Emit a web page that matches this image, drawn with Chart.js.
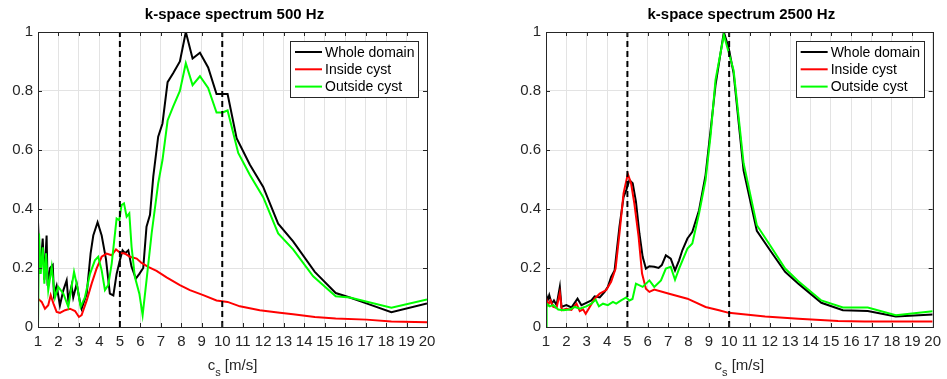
<!DOCTYPE html>
<html>
<head>
<meta charset="utf-8">
<script src="https://cdn.jsdelivr.net/npm/chart.js@4/dist/chart.umd.min.js"></script>
<style>
  html, body { margin: 0; padding: 0; background: #fff; }
  #wrap { position: relative; width: 947px; height: 379px; }
  canvas { position: absolute; top: 0; }
  #left-chart  { left: 0; }
  #right-chart { left: 473px; }
</style>
</head>
<body>
<div id="wrap">
  <canvas id="left-chart" width="473" height="379"></canvas>
  <canvas id="right-chart" width="474" height="379"></canvas>
</div>
<script>
// ------------------------------------------------------------------
// Data
// ------------------------------------------------------------------

const seriesNames = ["Whole domain", "Inside cyst", "Outside cyst"];
const seriesColors = ["#000000", "#ff0000", "#00ff00"];
const xTicks = [1, 2, 3, 4, 5, 6, 7, 8, 9, 10, 11, 12, 13, 14, 15, 16, 17, 18, 19, 20];
const yTicks = [0, 0.2, 0.4, 0.6, 0.8, 1];
const markerX = [5, 10];

// 500 Hz
const wholeX500 = [1.00, 1.10, 1.23, 1.31, 1.42, 1.47, 1.59, 1.72, 1.78, 1.91, 2.07, 2.24, 2.40, 2.48, 2.64, 2.72, 2.89, 3.05, 3.13, 3.38, 3.57, 3.70, 3.91, 4.11, 4.32, 4.51, 4.68, 4.84, 5.00, 5.13, 5.25, 5.41, 5.57, 5.78, 5.95, 6.14, 6.30, 6.47, 6.63, 6.87, 7.08, 7.33, 7.60, 7.93, 8.22, 8.55, 8.91, 9.31, 9.72, 10.01, 10.26, 10.70, 11.35, 12.00, 12.73, 13.46, 14.52, 15.54, 16.23, 17.04, 18.26, 20.00];
const wholeY500 = [0.357, 0.18, 0.30, 0.16, 0.31, 0.14, 0.20, 0.21, 0.11, 0.14, 0.073, 0.125, 0.158, 0.09, 0.14, 0.10, 0.147, 0.085, 0.062, 0.113, 0.25, 0.31, 0.355, 0.31, 0.23, 0.113, 0.107, 0.18, 0.226, 0.26, 0.25, 0.26, 0.204, 0.164, 0.18, 0.20, 0.34, 0.38, 0.51, 0.645, 0.69, 0.83, 0.86, 0.90, 1.0, 0.91, 0.93, 0.88, 0.79, 0.79, 0.79, 0.64, 0.55, 0.475, 0.35, 0.29, 0.187, 0.115, 0.10, 0.08, 0.05, 0.08];

const insideX500 = [1.00, 1.18, 1.34, 1.50, 1.62, 1.75, 1.91, 2.07, 2.32, 2.56, 2.81, 3.00, 3.13, 3.38, 3.62, 3.86, 4.11, 4.35, 4.60, 4.81, 5.03, 5.25, 5.49, 5.82, 6.06, 6.38, 6.79, 7.28, 7.93, 8.42, 9.07, 9.72, 10.26, 10.86, 11.83, 12.81, 13.46, 14.52, 15.54, 17.04, 18.26, 20.00];
const insideY500 = [0.096, 0.085, 0.062, 0.074, 0.108, 0.08, 0.051, 0.048, 0.057, 0.062, 0.054, 0.034, 0.04, 0.09, 0.147, 0.198, 0.238, 0.249, 0.243, 0.263, 0.251, 0.249, 0.238, 0.232, 0.217, 0.204, 0.19, 0.168, 0.142, 0.125, 0.108, 0.09, 0.085, 0.07, 0.057, 0.048, 0.043, 0.034, 0.029, 0.025, 0.019, 0.016];

const outsideX500 = [1.00, 1.05, 1.13, 1.23, 1.31, 1.39, 1.50, 1.67, 1.83, 1.99, 2.24, 2.48, 2.76, 2.92, 3.08, 3.29, 3.54, 3.78, 3.94, 4.11, 4.27, 4.43, 4.60, 4.84, 4.97, 5.08, 5.20, 5.33, 5.46, 5.57, 5.73, 5.95, 6.11, 6.30, 6.55, 6.87, 7.08, 7.33, 7.60, 7.93, 8.22, 8.55, 8.91, 9.31, 9.72, 10.01, 10.26, 10.78, 11.35, 12.00, 12.73, 13.46, 14.44, 15.54, 16.23, 18.26, 20.00];
const outsideY500 = [0, 0.317, 0.18, 0.27, 0.147, 0.25, 0.125, 0.204, 0.10, 0.136, 0.113, 0.068, 0.187, 0.136, 0.068, 0.10, 0.18, 0.226, 0.238, 0.192, 0.125, 0.142, 0.215, 0.368, 0.362, 0.413, 0.419, 0.374, 0.385, 0.272, 0.17, 0.113, 0.04, 0.158, 0.317, 0.487, 0.566, 0.70, 0.747, 0.80, 0.894, 0.82, 0.85, 0.81, 0.727, 0.727, 0.734, 0.59, 0.515, 0.44, 0.317, 0.263, 0.172, 0.104, 0.10, 0.065, 0.093];

// 2500 Hz
const wholeX2500 = [1.00, 1.08, 1.16, 1.28, 1.39, 1.52, 1.68, 1.76, 2.00, 2.25, 2.55, 2.74, 2.98, 3.23, 3.39, 3.64, 3.88, 4.04, 4.20, 4.37, 4.61, 4.81, 4.94, 5.10, 5.26, 5.42, 5.59, 5.75, 5.91, 6.08, 6.32, 6.53, 6.69, 6.89, 7.13, 7.34, 7.54, 7.70, 7.95, 8.19, 8.52, 8.84, 9.09, 9.33, 9.74, 9.98, 10.22, 10.71, 11.36, 12.01, 12.75, 13.40, 14.53, 15.59, 16.81, 18.19, 20.00];
const wholeY2500 = [0.113, 0.09, 0.108, 0.079, 0.09, 0.074, 0.136, 0.068, 0.074, 0.066, 0.096, 0.074, 0.082, 0.09, 0.104, 0.10, 0.119, 0.136, 0.17, 0.192, 0.34, 0.44, 0.464, 0.498, 0.487, 0.425, 0.317, 0.238, 0.198, 0.206, 0.204, 0.20, 0.21, 0.243, 0.232, 0.192, 0.226, 0.26, 0.30, 0.323, 0.396, 0.515, 0.668, 0.82, 1.0, 0.945, 0.86, 0.53, 0.326, 0.26, 0.187, 0.147, 0.082, 0.057, 0.054, 0.036, 0.042];

const insideX2500 = [1.00, 1.10, 1.22, 1.36, 1.52, 1.68, 1.78, 2.00, 2.25, 2.50, 2.66, 2.82, 2.95, 3.15, 3.39, 3.64, 3.96, 4.20, 4.42, 4.61, 4.81, 5.02, 5.18, 5.34, 5.55, 5.72, 5.91, 6.08, 6.32, 7.05, 7.95, 8.84, 9.50, 9.98, 11.77, 13.40, 15.35, 16.65, 20.00];
const insideY2500 = [0.10, 0.075, 0.09, 0.068, 0.065, 0.115, 0.057, 0.062, 0.058, 0.079, 0.054, 0.06, 0.045, 0.068, 0.096, 0.113, 0.125, 0.153, 0.198, 0.317, 0.453, 0.519, 0.487, 0.419, 0.306, 0.181, 0.13, 0.119, 0.127, 0.113, 0.096, 0.068, 0.057, 0.048, 0.036, 0.028, 0.02, 0.019, 0.019];

const outsideX2500 = [1.00, 1.03, 1.18, 1.36, 1.60, 1.85, 2.17, 2.42, 2.66, 2.98, 3.23, 3.44, 3.60, 3.80, 4.04, 4.29, 4.45, 4.69, 4.94, 5.10, 5.25, 5.42, 5.75, 6.08, 6.32, 6.65, 6.89, 7.13, 7.34, 7.54, 7.95, 8.19, 8.52, 8.84, 9.09, 9.33, 9.74, 10.22, 10.71, 11.36, 12.01, 12.75, 13.40, 14.53, 15.59, 16.81, 18.19, 20.00];
const outsideY2500 = [0, 0.079, 0.07, 0.074, 0.059, 0.057, 0.059, 0.068, 0.062, 0.07, 0.079, 0.093, 0.07, 0.079, 0.074, 0.085, 0.079, 0.09, 0.10, 0.09, 0.095, 0.147, 0.136, 0.158, 0.136, 0.158, 0.198, 0.204, 0.16, 0.198, 0.266, 0.283, 0.385, 0.498, 0.651, 0.838, 0.99, 0.87, 0.555, 0.345, 0.277, 0.198, 0.155, 0.09, 0.066, 0.066, 0.04, 0.053];

// ------------------------------------------------------------------
// Helpers
// ------------------------------------------------------------------

const AXIS_COLOR = "#262626";
const GRID_COLOR = "#e3e3e3";
const FONT = "'Liberation Sans', Arial, sans-serif";

function points(xs, ys) {
  return xs.map((x, i) => ({ x, y: ys[i] }));
}

function lineSet(label, color, xs, ys) {
  return {
    label, data: points(xs, ys),
    borderColor: color, borderWidth: 2,
    pointRadius: 0, fill: false, tension: 0,
  };
}

function markerSet(x) {
  return {
    label: "marker", data: [{ x, y: 0 }, { x, y: 1 }],
    borderColor: "#000000", borderWidth: 2, borderDash: [6, 4],
    pointRadius: 0, fill: false,
  };
}

// frame, inward ticks, title, x label with subscript, legend box
const decorPlugin = {
  id: "decor",
  afterDraw(chart, args, opts) {
    const { ctx, chartArea: a, scales } = chart;
    ctx.save();

    // inward tick marks
    ctx.strokeStyle = AXIS_COLOR;
    ctx.lineWidth = 1;
    ctx.beginPath();
    xTicks.forEach(t => {
      const px = Math.round(scales.x.getPixelForValue(t)) + 0.5;
      ctx.moveTo(px, a.bottom); ctx.lineTo(px, a.bottom - 4);
      ctx.moveTo(px, a.top);    ctx.lineTo(px, a.top + 4);
    });
    yTicks.forEach(t => {
      const py = Math.round(scales.y.getPixelForValue(t)) + 0.5;
      ctx.moveTo(a.left, py);  ctx.lineTo(a.left + 4, py);
      ctx.moveTo(a.right, py); ctx.lineTo(a.right - 4, py);
    });
    ctx.stroke();

    // box
    ctx.strokeRect(Math.round(a.left) + 0.5, Math.round(a.top) + 0.5,
                   Math.round(a.right - a.left), Math.round(a.bottom - a.top));

    // title
    const cx = (a.left + a.right) / 2;
    ctx.fillStyle = "#000";
    ctx.font = `bold 15px ${FONT}`;
    ctx.textAlign = "center";
    ctx.textBaseline = "alphabetic";
    ctx.fillText(opts.title, cx + 2, 19);

    // x label: c_s [m/s]
    ctx.fillStyle = AXIS_COLOR;
    ctx.font = `15px ${FONT}`;
    const wC = ctx.measureText("c").width;
    const wRest = ctx.measureText(" [m/s]").width;
    ctx.font = `11px ${FONT}`;
    const wS = ctx.measureText("s").width;
    let x0 = cx - (wC + wS + wRest) / 2;
    ctx.textAlign = "left";
    ctx.font = `15px ${FONT}`;
    ctx.fillText("c", x0, 370);
    ctx.font = `11px ${FONT}`;
    ctx.fillText("s", x0 + wC, 376);
    ctx.font = `15px ${FONT}`;
    ctx.fillText(" [m/s]", x0 + wC + wS, 370);

    // legend
    const lx = a.right - 137, ly = a.top + 9, lw = 128, lh = 56;
    ctx.fillStyle = "#fff";
    ctx.fillRect(lx, ly, lw, lh);
    ctx.strokeStyle = AXIS_COLOR;
    ctx.strokeRect(Math.round(lx) + 0.5, Math.round(ly) + 0.5, lw, lh);
    ctx.font = `14px ${FONT}`;
    ctx.textBaseline = "middle";
    seriesNames.forEach((name, i) => {
      const ry = ly + 11 + i * 17.3;
      ctx.strokeStyle = seriesColors[i];
      ctx.lineWidth = 2;
      ctx.beginPath();
      ctx.moveTo(lx + 5, ry); ctx.lineTo(lx + 32, ry);
      ctx.stroke();
      ctx.fillStyle = "#000";
      ctx.fillText(name, lx + 35, ry + 1);
    });

    ctx.restore();
  },
};

function makeChart(canvasId, title, data, padLeft, padRight) {
  const [wx, wy, ix, iy, ox, oy] = data;
  return new Chart(document.getElementById(canvasId), {
    type: "line",
    data: {
      datasets: [
        markerSet(markerX[0]),
        markerSet(markerX[1]),
        lineSet(seriesNames[2], seriesColors[2], ox, oy),
        lineSet(seriesNames[1], seriesColors[1], ix, iy),
        lineSet(seriesNames[0], seriesColors[0], wx, wy),
      ],
    },
    options: {
      responsive: false,
      devicePixelRatio: 1,
      animation: false,
      layout: { padding: { left: padLeft, right: padRight, top: 32, bottom: 0 } },
      plugins: {
        legend: { display: false },
        tooltip: { enabled: false },
        decor: { title },
      },
      scales: {
        x: {
          type: "linear", min: 1, max: 20,
          afterBuildTicks: s => { s.ticks = xTicks.map(v => ({ value: v })); },
          afterFit: s => { s.height = 52; },
          grid: { color: GRID_COLOR, drawTicks: false },
          border: { color: AXIS_COLOR },
          ticks: { color: AXIS_COLOR, font: { family: FONT, size: 15 }, padding: 6, maxRotation: 0, autoSkip: false },
        },
        y: {
          min: 0, max: 1,
          afterBuildTicks: s => { s.ticks = yTicks.map(v => ({ value: v })); },
          afterFit: s => { s.width = 38; },
          grid: { color: GRID_COLOR, drawTicks: false },
          border: { color: AXIS_COLOR },
          ticks: { color: AXIS_COLOR, font: { family: FONT, size: 15 }, padding: 5,
                   callback: v => String(Math.round(v * 10) / 10) },
        },
      },
    },
    plugins: [decorPlugin],
  });
}

makeChart("left-chart", "k-space spectrum 500 Hz",
  [wholeX500, wholeY500, insideX500, insideY500, outsideX500, outsideY500], 0, 46);
makeChart("right-chart", "k-space spectrum 2500 Hz",
  [wholeX2500, wholeY2500, insideX2500, insideY2500, outsideX2500, outsideY2500], 35, 12);
</script>
</body>
</html>
